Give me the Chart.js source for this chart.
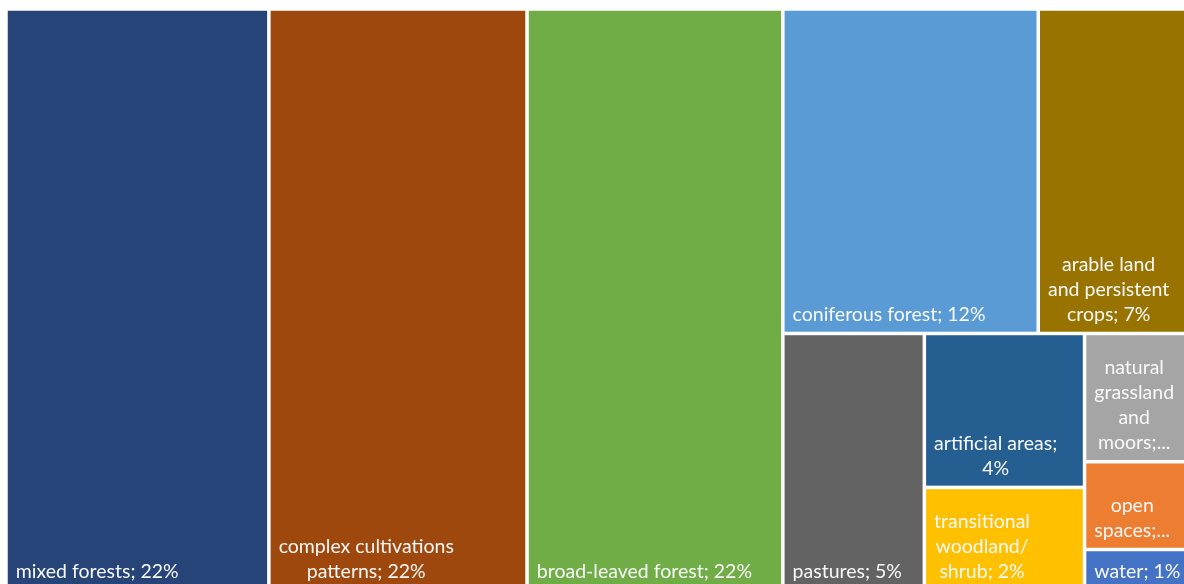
<!DOCTYPE html>
<html>
<head>
<meta charset="utf-8">
<title>Land cover</title>
<script src="https://cdn.jsdelivr.net/npm/chart.js@4.4.1/dist/chart.umd.min.js"></script>
<style>
    html, body { margin: 0; padding: 0; background: #fff; overflow: hidden; }
    canvas { display: block; }
</style>
</head>
<body>
<canvas id="landChart" width="1190" height="592"></canvas>
<script>
// Land cover shares (%)
const categories = [
    "mixed forests",
    "complex cultivations patterns",
    "broad-leaved forest",
    "coniferous forest",
    "arable land and persistent crops",
    "pastures",
    "artificial areas",
    "transitional woodland/ shrub",
    "natural grassland and moors",
    "open spaces",
    "water"
];
const shares = [22.3, 21.9, 21.7, 12.1, 7.0, 5.3, 3.6, 2.4, 1.9, 1.3, 0.6];
const colors = [
    "#264478", "#9e480e", "#70ad47", "#5b9bd5", "#997300", "#636363",
    "#255e91", "#ffc000", "#a5a5a5", "#ed7d31", "#4472c4"
];

// Tile grouping by index: "row" splits left to right, "col" splits top to bottom
const groups = ["row", 0, 1, 2,
    ["col",
        ["row", 3, 4],
        ["row", 5, ["col", 6, 7], ["col", 8, 9, 10]]
    ]
];

function groupTotal(node) {
    if (typeof node === "number") return shares[node];
    return node.slice(1).reduce((sum, n) => sum + groupTotal(n), 0);
}

// slice-and-dice in value space (0..1 on both axes)
function layout(node, x0, y0, x1, y1, out) {
    if (typeof node === "number") {
        out[node] = { x0, y0, x1, y1 };
        return out;
    }
    const total = groupTotal(node);
    let pos = node[0] === "row" ? x0 : y0;
    node.slice(1).forEach(child => {
        const frac = groupTotal(child) / total;
        if (node[0] === "row") {
            const span = (x1 - x0) * frac;
            layout(child, pos, y0, pos + span, y1, out);
            pos += span;
        } else {
            const span = (y1 - y0) * frac;
            layout(child, x0, pos, x1, pos + span, out);
            pos += span;
        }
    });
    return out;
}

const cells = layout(groups, 0, 0, 1, 1, []);

function wrapWords(ctx, text, maxW) {
    const words = text.split(" ");
    const lines = [];
    let line = "";
    words.forEach(w => {
        const test = line ? line + " " + w : w;
        if (line && ctx.measureText(test).width > maxW) {
            lines.push(line);
            line = w;
        } else {
            line = test;
        }
    });
    if (line) lines.push(line);
    return lines;
}

const treemapCells = {
    id: "treemapCells",
    beforeDatasetsDraw(chart) {
        const { ctx, scales: { x, y } } = chart;
        const gap = 3.5;
        const pad = 8;
        const lineH = 25;

        ctx.save();
        cells.forEach((c, i) => {
            const left = x.getPixelForValue(c.x0) + gap / 2;
            const right = x.getPixelForValue(c.x1) - gap / 2;
            const top = y.getPixelForValue(c.y0) + gap / 2;
            const bottom = y.getPixelForValue(c.y1) - gap / 2;
            const w = right - left;
            const h = bottom - top;

            ctx.fillStyle = colors[i];
            ctx.fillRect(left, top, w, h);

            // label: wrapped, bottom-left block, lines centred in the block
            ctx.font = "19.5px Lato";
            const text = categories[i] + "; " + Math.round(shares[i]) + "%";
            const maxLines = Math.max(1, Math.floor((h - 12) / lineH));
            let maxW = w - pad * 2;
            let lines = wrapWords(ctx, text, maxW);
            if (lines.length > maxLines) {
                // squeeze into the right padding before cutting the text
                maxW = w - pad - 1;
                lines = wrapWords(ctx, text, maxW);
            }
            if (lines.length > maxLines) {
                lines = lines.slice(0, maxLines);
                let last = lines[maxLines - 1];
                while (last.length && ctx.measureText(last + "...").width > maxW) {
                    last = last.slice(0, -1);
                }
                lines[maxLines - 1] = last + "...";
            }
            const blockW = Math.max(...lines.map(l => ctx.measureText(l).width));
            const cx = left + pad + blockW / 2;
            ctx.fillStyle = "#f8f8f8";
            ctx.textAlign = "center";
            ctx.textBaseline = "middle";
            lines.forEach((l, k) => {
                ctx.fillText(l, cx, bottom - 17 - (lines.length - 1 - k) * lineH);
            });
        });
        ctx.restore();
    }
};

new Chart(document.getElementById("landChart"), {
    type: "scatter",
    data: {
        datasets: [{
            data: cells.map(c => ({ x: (c.x0 + c.x1) / 2, y: (c.y0 + c.y1) / 2 })),
            pointRadius: 0
        }]
    },
    options: {
        responsive: false,
        animation: false,
        layout: { padding: { left: 6, top: 9, right: 4, bottom: 2 } },
        scales: {
            x: { type: "linear", min: 0, max: 1, display: false },
            y: { type: "linear", min: 0, max: 1, reverse: true, display: false }
        },
        plugins: {
            legend: { display: false },
            tooltip: { enabled: false }
        }
    },
    plugins: [treemapCells]
});
</script>
</body>
</html>
